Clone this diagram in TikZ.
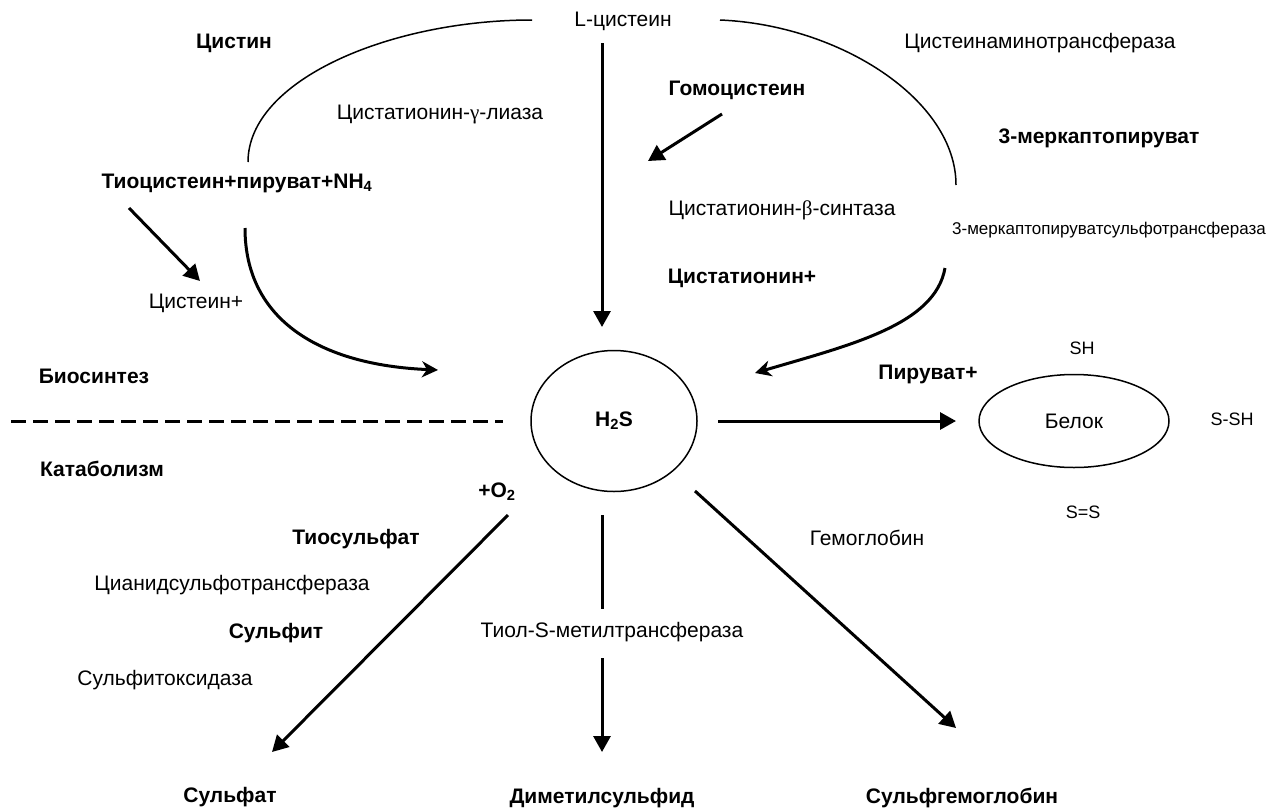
\documentclass[tikz,border=0pt]{standalone}
\usepackage{fontspec}
\setmainfont{Liberation Sans}
\newfontfamily\greekserif{Liberation Serif}
\usetikzlibrary{arrows.meta,shapes.geometric}
\tikzset{
  lbl/.style={inner sep=0pt, font=\fontsize{21}{25}\selectfont},
  blbl/.style={inner sep=0pt, font=\fontsize{21}{25}\selectfont\bfseries},
  smalllbl/.style={inner sep=0pt, font=\fontsize{17}{20}\selectfont},
  grouplbl/.style={inner sep=0pt, font=\fontsize{18}{21}\selectfont},
  arcline/.style={line width=1.5pt},
  bigarrow/.style={line width=3pt, -{Triangle[length=16pt,width=17pt]}},
  curvearrow/.style={line width=3pt, -{Stealth[length=16pt,width=16pt,inset=5pt]}},
  plainthick/.style={line width=3pt},
  divider/.style={line width=3pt, dash pattern=on 15pt off 7pt},
  pool/.style={ellipse, draw, line width=1.5pt, inner sep=0pt}
}
\begin{document}
\begin{tikzpicture}[x=1pt,y=-1pt]
\useasboundingbox (0,0) rectangle (1279,809);
% text nodes
\node[blbl] (cystin) at (234,43) {Цистин};
\node[lbl] (lcys) at (623,21) {L-цистеин};
\node[lbl] (cat) at (1040,43) {Цистеинаминотрансфераза};
\node[lbl] (cgl) at (440,115) {Цистатионин-{\greekserif γ}-лиаза};
\node[blbl] (hcys) at (737,90) {Гомоцистеин};
\node[blbl] (mp) at (1099,138) {3-меркаптопируват};
\node[blbl] (thio) at (237,183) {Тиоцистеин+пируват+NH\textsubscript{4}};
\node[lbl] (cbs) at (782,210) {Цистатионин-{\greekserif β}-синтаза};
\node[smalllbl] (mst) at (1109,230) {3-меркаптопируватсульфотрансфераза};
\node[blbl] (cysta) at (742,278) {Цистатионин+};
\node[lbl] (cysplus) at (196,303) {Цистеин+};
\node[blbl] (bio) at (94,376) {Биосинтез};
\node[blbl] (cata) at (102,469) {Катаболизм};
\node[blbl] (pyr) at (928,374) {Пируват+};
\node[pool, minimum width=166pt, minimum height=141pt, font=\fontsize{21}{25}\selectfont\bfseries] (h2s) at (614,421) {H\textsubscript{2}S};
\node[pool, minimum width=190pt, minimum height=93pt, font=\fontsize{21}{25}\selectfont] (prot) at (1074,421) {Белок};
\node[grouplbl] (sh) at (1082,348) {SH};
\node[grouplbl] (ssh) at (1232,419) {S-SH};
\node[grouplbl] (ss) at (1083,512) {S=S};
\node[blbl] (o2) at (497,492) {+O\textsubscript{2}};
\node[blbl] (tsulf) at (356,539) {Тиосульфат};
\node[lbl] (hb) at (867,538) {Гемоглобин};
\node[lbl] (cst) at (232,585) {Цианидсульфотрансфераза};
\node[blbl] (sulfit) at (276,633) {Сульфит};
\node[lbl] (tsmt) at (612,632) {Тиол-S-метилтрансфераза};
\node[lbl] (sox) at (165,680) {Сульфитоксидаза};
\node[blbl] (sulfat) at (230,797) {Сульфат};
\node[blbl] (dms) at (602,798) {Диметилсульфид};
\node[blbl] (shb) at (962,798) {Сульфгемоглобин};
% connector end points
\coordinate (arcLa) at (248,162);
\coordinate (arcLb) at (532,20);
\coordinate (arcRa) at (720,20);
\coordinate (arcRb) at (956,185);
\coordinate (cvLa) at (245,228);
\coordinate (cvLb) at (438,370);
\coordinate (cvRa) at (945,268);
\coordinate (cvRb) at (755,373);
\coordinate (vTop) at (602,43);
\coordinate (vTip) at (602,327);
\coordinate (hcA) at (722,114);
\coordinate (hcB) at (648,161);
\coordinate (thA) at (129,208);
\coordinate (thB) at (200,281);
\coordinate (prA) at (718,421);
\coordinate (prB) at (956,421);
\coordinate (dvA) at (11,421);
\coordinate (dvB) at (503,421);
\coordinate (sfA) at (508,515);
\coordinate (sfB) at (272,752);
\coordinate (dmA) at (602,515);
\coordinate (dmM) at (602,609);
\coordinate (dmN) at (602,658);
\coordinate (dmB) at (602,752);
\coordinate (hbA) at (695,491);
\coordinate (hbB) at (956,728);
% connectors
\draw[arcline] (arcLa) .. controls (248,80) and (390,20) .. (arcLb);
\draw[arcline] (arcRa) .. controls (840,25) and (956,100) .. (arcRb);
\draw[curvearrow] (cvLa) .. controls (245,320) and (320,365) .. (cvLb);
\draw[curvearrow] (cvRa) .. controls (935,325) and (850,345) .. (cvRb);
\draw[bigarrow] (vTop) -- (vTip);
\draw[bigarrow] (hcA) -- (hcB);
\draw[bigarrow] (thA) -- (thB);
\draw[bigarrow] (prA) -- (prB);
\draw[divider] (dvA) -- (dvB);
\draw[bigarrow] (sfA) -- (sfB);
\draw[plainthick] (dmA) -- (dmM);
\draw[bigarrow] (dmN) -- (dmB);
\draw[bigarrow] (hbA) -- (hbB);
\end{tikzpicture}
\end{document}
